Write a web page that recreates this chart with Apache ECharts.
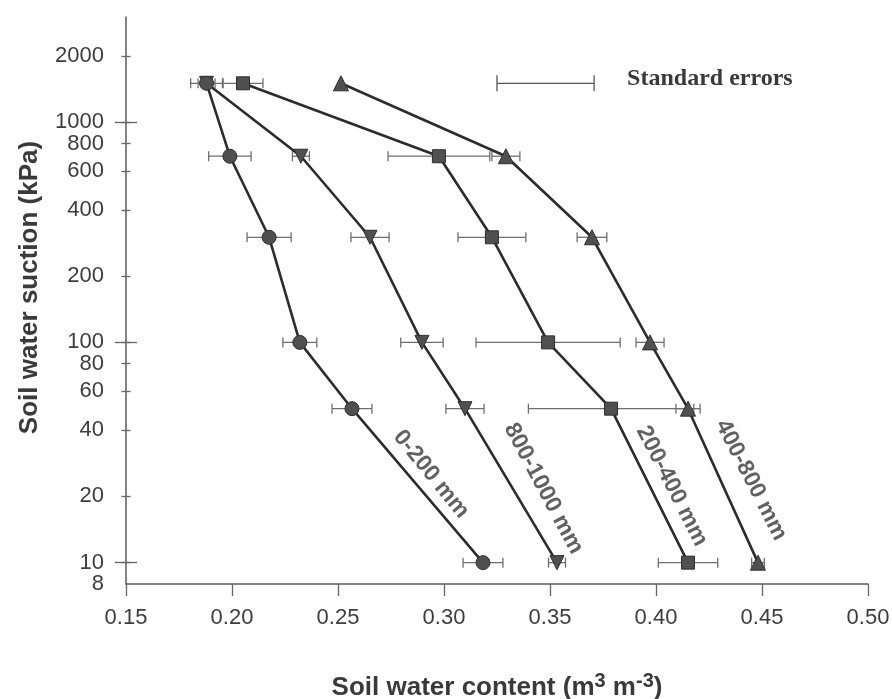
<!DOCTYPE html>
<html><head><meta charset="utf-8">
<script src="https://cdn.jsdelivr.net/npm/echarts@6/dist/echarts.min.js"></script>
<style>html,body{margin:0;padding:0;background:#fff}#c{width:892px;height:699px}</style>
</head><body><div id="c"></div>
<script>
// ---- data ----
const suction = [1500, 700, 300, 100, 50, 10];              // kPa
const content_0_200    = [0.188, 0.199, 0.2175, 0.232, 0.2566, 0.3184];
const content_200_400  = [0.2052, 0.2976, 0.3226, 0.3491, 0.3788, 0.4151];
const content_400_800  = [0.2514, 0.3292, 0.3698, 0.3972, 0.4151, 0.4481];
const content_800_1000 = [0.188, 0.2325, 0.2651, 0.2896, 0.3099, 0.3533];
const se_0_200    = [0.0075, 0.010, 0.0104, 0.008, 0.0094, 0.0094];
const se_200_400  = [0.0094, 0.024, 0.016, 0.034, 0.039, 0.014];
const se_400_800  = [0, 0.0066, 0.007, 0.0066, 0.0057, 0.003];
const se_800_1000 = [0.004, 0.004, 0.009, 0.010, 0.009, 0.004];
const depthNames = ['0-200 mm', '800-1000 mm', '200-400 mm', '400-800 mm'];
const depthLabelAt = [[0.2939, 25.2], [0.3469, 21.7], [0.4075, 22.3], [0.4448, 23.7]];
const depthLabelAngle = [-51, -62, -63, -63];
const yTickLabels = [10, 20, 40, 60, 80, 100, 200, 400, 600, 800, 1000, 2000];
const yBottomLabel = [8];
const yMajorTicks = [10, 100, 1000];
const xMin = 0.15, xMax = 0.50, xStep = 0.05;
const yMin = 8, yMax = 3000;
const seLegendX = [0.325, 0.3708];
const seLegendY = 1500;
const seLegendText = 'Standard errors';
const xTitle = ['Soil water content (m', '3', ' m', '-3', ')'];
const yTitle = 'Soil water suction (kPa)';

// ---- chart ----
const FONT = "'Liberation Sans', Arial, sans-serif";
const L = Math.log10;
const chart = echarts.init(document.getElementById('c'), null, {renderer: 'canvas'});

function errRender(params, api) {
  const x = api.value(0), y = api.value(1), e = api.value(2);
  if (!e) return null;
  const p1 = api.coord([x - e, y]), p2 = api.coord([x + e, y]);
  const h = 5;
  const style = {stroke: '#6e6e6e', lineWidth: 1.3, fill: null};
  return {type: 'group', children: [
    {type: 'line', shape: {x1: p1[0], y1: p1[1], x2: p2[0], y2: p2[1]}, style},
    {type: 'line', shape: {x1: p1[0], y1: p1[1] - h, x2: p1[0], y2: p1[1] + h}, style},
    {type: 'line', shape: {x1: p2[0], y1: p2[1] - h, x2: p2[0], y2: p2[1] + h}, style}
  ]};
}
function legendRender(params, api) {
  const p1 = api.coord([api.value(0), api.value(2)]);
  const p2 = api.coord([api.value(1), api.value(2)]);
  const h = 8;
  const style = {stroke: '#555', lineWidth: 1.3, fill: null};
  return {type: 'group', children: [
    {type: 'line', shape: {x1: p1[0], y1: p1[1], x2: p2[0], y2: p2[1]}, style},
    {type: 'line', shape: {x1: p1[0], y1: p1[1] - h, x2: p1[0], y2: p1[1] + h}, style},
    {type: 'line', shape: {x1: p2[0], y1: p2[1] - h, x2: p2[0], y2: p2[1] + h}, style},
    {type: 'text', x: p2[0] + 33, y: p2[1] - 5, style: {text: seLegendText, fill: '#3a3a3a',
      font: "bold 24px 'Liberation Serif', 'Times New Roman', serif", verticalAlign: 'middle', align: 'left'}}
  ]};
}

const groups = [
  {name: depthNames[1], x: content_800_1000, se: se_800_1000, symbol: 'triangle', rot: 180, size: 14},
  {name: depthNames[3], x: content_400_800, se: se_400_800, symbol: 'triangle', rot: 0, size: 15},
  {name: depthNames[2], x: content_200_400, se: se_200_400, symbol: 'rect', rot: 0, size: 13},
  {name: depthNames[0], x: content_0_200, se: se_0_200, symbol: 'circle', rot: 0, size: 14}
];

const series = [];
groups.forEach(g => {
  series.push({
    type: 'custom', name: g.name + ' SE', renderItem: errRender, z: 2,
    encode: {x: 0, y: 1}, silent: true,
    data: suction.map((s, i) => [g.x[i], L(s), g.se[i]])
  });
});
groups.forEach(g => {
  series.push({
    type: 'line', name: g.name, z: 3,
    data: suction.map((s, i) => [g.x[i], L(s)]),
    symbol: g.symbol, symbolRotate: g.rot, symbolSize: g.size, showSymbol: true,
    lineStyle: {color: '#2c2c2c', width: 2.6},
    itemStyle: {color: '#505050', borderColor: '#2e2e2e', borderWidth: 1}
  });
});
series.push({
  type: 'scatter', symbolSize: 0, z: 4, silent: true,
  data: depthLabelAt.map((p, i) => ({
    value: [p[0], L(p[1])],
    label: {formatter: depthNames[i], rotate: depthLabelAngle[i]}
  })),
  label: {show: true, position: 'inside', fontSize: 23, fontWeight: 'bold', color: '#3a3a3a',
          fontFamily: FONT, align: 'center', verticalAlign: 'middle'}
});
series.push({
  type: 'custom', renderItem: legendRender, z: 4, silent: true,
  encode: {x: [0, 1], y: 2},
  data: [[seLegendX[0], seLegendX[1], L(seLegendY)]]
});

const yBase = {
  type: 'value', position: 'left', offset: 0, min: L(yMin), max: L(yMax),
  splitLine: {show: false}, axisLabel: {show: false}
};
const tickStyle = {color: '#666', width: 1.3};
const yLabelStyle = {show: true, margin: 22, fontSize: 22, color: '#3d3d3d', fontFamily: FONT,
                     showMinLabel: true, showMaxLabel: true,
                     formatter: v => String(Math.round(Math.pow(10, v)))};

chart.setOption({
  animation: false,
  backgroundColor: '#fff',
  grid: {left: 126, right: 24, top: 17, bottom: 115, containLabel: false, outerBoundsMode: 'none'},
  xAxis: {
    type: 'value', min: xMin, max: xMax, interval: xStep,
    splitLine: {show: false},
    axisLine: {show: true, onZero: false, lineStyle: {color: '#5a5a5a', width: 1.5}},
    axisTick: {show: true, length: 12, lineStyle: tickStyle},
    axisLabel: {margin: 23, fontSize: 22, color: '#3d3d3d', fontFamily: FONT, formatter: v => v.toFixed(2)},
    name: '{a|' + xTitle[0] + '}{s|' + xTitle[1] + '}{a|' + xTitle[2] + '}{s|' + xTitle[3] + '}{a|' + xTitle[4] + '}',
    nameLocation: 'middle', nameGap: 87,
    nameTextStyle: {rich: {
      a: {fontSize: 26, fontWeight: 'bold', fontFamily: FONT, color: '#3a3a3a', lineHeight: 34},
      s: {fontSize: 20, fontWeight: 'bold', fontFamily: FONT, color: '#3a3a3a', lineHeight: 18, verticalAlign: 'top'}
    }}
  },
  yAxis: [
    Object.assign({}, yBase, {
      axisLine: {show: true, onZero: false, lineStyle: {color: '#5a5a5a', width: 1.5}},
      axisTick: {show: true, length: 4.5, customValues: yTickLabels.map(L), lineStyle: tickStyle},
      axisLabel: Object.assign({}, yLabelStyle, {customValues: yTickLabels.map(L)}),
      name: yTitle, nameLocation: 'middle', nameGap: 83,
      nameTextStyle: {fontSize: 26, fontWeight: 'bold', fontFamily: FONT, color: '#3a3a3a', lineHeight: 26,
                      padding: [0, 0, 0, 26]}
    }),
    Object.assign({}, yBase, {
      axisLine: {show: false},
      axisTick: {show: true, inside: true, length: 4.5, customValues: yTickLabels.map(L), lineStyle: tickStyle},
      axisLabel: Object.assign({}, yLabelStyle, {customValues: yBottomLabel.map(L)})
    }),
    Object.assign({}, yBase, {
      axisLine: {show: false},
      axisTick: {show: true, length: 11, customValues: yMajorTicks.map(L), lineStyle: tickStyle}
    }),
    Object.assign({}, yBase, {
      axisLine: {show: false},
      axisTick: {show: true, inside: true, length: 11, customValues: yMajorTicks.map(L), lineStyle: tickStyle}
    })
  ],
  series
});
</script></body></html>
